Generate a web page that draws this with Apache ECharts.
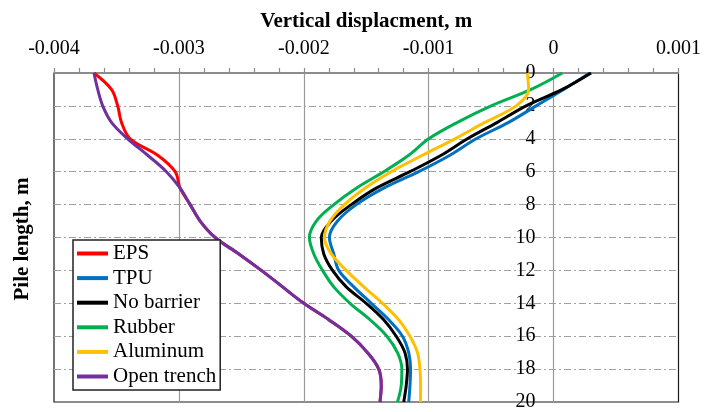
<!DOCTYPE html>
<html>
<head>
<meta charset="utf-8">
<script src="https://cdn.jsdelivr.net/npm/echarts@6/dist/echarts.min.js"></script>
<style>
  html, body { margin: 0; padding: 0; background: #fff; }
  #chart { width: 704px; height: 412px; }
</style>
</head>
<body>
<div id="chart"></div>
<script>
// Depth along the pile (m), shared by every curve
const depth = [0, 1, 2, 3, 4, 5, 6, 7, 8, 9, 10, 11, 12, 13, 14, 15, 16, 17, 18, 19, 20];

// Vertical displacement (m) at each depth
const eps        = [-0.00368, -0.00354, -0.00349, -0.00346, -0.00339, -0.00317, -0.00303, -0.00299, -0.00291, -0.00283, -0.00271, -0.00252, -0.00234, -0.00217, -0.00200, -0.00180, -0.00162, -0.00149, -0.00140, -0.00138, -0.00139];
const tpu        = [ 0.00029,  0.00008, -0.00014, -0.00036, -0.00062, -0.00083, -0.00108, -0.00136, -0.00158, -0.00173, -0.001795, -0.00176, -0.00172, -0.00160, -0.00146, -0.00132, -0.00121, -0.00116, -0.001145, -0.00115, -0.00116];
const noBarrier  = [ 0.00030,  0.00007, -0.00022, -0.00045, -0.00069, -0.00090, -0.00115, -0.00142, -0.00162, -0.00178, -0.00186, -0.00184, -0.00177, -0.00166, -0.00150, -0.00136, -0.00126, -0.00119, -0.00117, -0.00118, -0.00120];
const rubber     = [ 0.00007, -0.00018, -0.00050, -0.00077, -0.00100, -0.00116, -0.00136, -0.00158, -0.00176, -0.00190, -0.001955, -0.00192, -0.00185, -0.00176, -0.00163, -0.00147, -0.001335, -0.00125, -0.001215, -0.00122, -0.00125];
const aluminum   = [-0.00021, -0.00020, -0.00030, -0.00055, -0.00079, -0.00105, -0.00130, -0.00151, -0.001675, -0.00179, -0.001835, -0.00178, -0.00166, -0.00152, -0.00137, -0.00124, -0.00115, -0.00109, -0.00107, -0.001065, -0.001066];
const openTrench = [-0.00368, -0.00365, -0.00361, -0.00354, -0.00341, -0.00325, -0.00310, -0.00299, -0.00291, -0.00283, -0.00271, -0.00252, -0.00234, -0.00217, -0.00200, -0.00180, -0.00162, -0.00149, -0.00140, -0.00138, -0.00139];

const seriesNames  = ['EPS', 'TPU', 'No barrier', 'Rubber', 'Aluminum', 'Open trench'];
const seriesValues = [eps, tpu, noBarrier, rubber, aluminum, openTrench];
const seriesColors = ['#FF0000', '#0070C0', '#000000', '#00B050', '#FFC000', '#7030A0'];

// Axis ticks and their labels
const xTicks     = [-0.004, -0.003, -0.002, -0.001, 0, 0.001];
const xTickText  = ['-0.004', '-0.003', '-0.002', '-0.001', '0', '0.001'];
const yTicks     = [0, 2, 4, 6, 8, 10, 12, 14, 16, 18, 20];
const yTickText  = ['0', '2', '4', '6', '8', '10', '12', '14', '16', '18', '20'];

const xTitle = 'Vertical displacment, m';
const yTitle = 'Pile length, m';

const FONT = '"Liberation Serif", "Times New Roman", serif';
const GRID_LEFT = 54;

function tickLabel(ticks, texts) {
  return function (v) {
    let best = 0;
    for (let i = 1; i < ticks.length; i++) {
      if (Math.abs(ticks[i] - v) < Math.abs(ticks[best] - v)) best = i;
    }
    return texts[best];
  };
}

const chart = echarts.init(document.getElementById('chart'), null, { renderer: 'canvas' });

chart.setOption({
  animation: false,
  backgroundColor: '#ffffff',
  grid: {
    left: GRID_LEFT, right: 25, top: 73, bottom: 9,
    show: true,
    borderColor: '#1a1a1a',
    borderWidth: 1.2,
    backgroundColor: 'transparent'
  },
  xAxis: {
    type: 'value',
    position: 'top',
    min: -0.004, max: 0.001, interval: 0.001,
    name: xTitle,
    nameLocation: 'middle',
    nameGap: 41,
    nameTextStyle: { fontFamily: FONT, fontSize: 21, fontWeight: 'bold', color: '#000' },
    axisLine: { show: true, onZero: false, lineStyle: { color: '#8c8c8c', width: 1.2 } },
    axisTick: { show: true, length: 5, lineStyle: { color: '#8c8c8c', width: 1.2 } },
    minorTick: { show: true, splitNumber: 5, length: 5, lineStyle: { color: '#8c8c8c', width: 1.2 } },
    splitLine: { show: true, showMinLine: false, showMaxLine: false, lineStyle: { color: '#9a9a9a', width: 1.2 } },
    axisLabel: {
      margin: 14,
      fontFamily: FONT, fontSize: 20, color: '#000',
      formatter: tickLabel(xTicks, xTickText)
    }
  },
  yAxis: {
    type: 'value',
    position: 'left',
    inverse: true,
    min: 0, max: 20, interval: 2,
    axisLine: { show: false, onZero: false },
    axisTick: { show: false },
    splitLine: {
      show: true, showMinLine: false, showMaxLine: false,
      lineStyle: { color: '#a0a0a0', width: 1, type: [7, 3, 2, 3] }
    },
    axisLabel: {
      margin: 18,
      fontFamily: FONT, fontSize: 20, color: '#000',
      formatter: tickLabel(yTicks, yTickText)
    }
  },
  legend: {
    data: seriesNames,
    orient: 'vertical',
    left: 73, top: 240,
    icon: 'rect',
    itemWidth: 31, itemHeight: 4, itemGap: 3.6,
    padding: [3, 4, 3, 4],
    borderColor: '#222', borderWidth: 1.5,
    backgroundColor: '#ffffff',
    textStyle: { fontFamily: FONT, fontSize: 21, lineHeight: 21, color: '#000' }
  },
  graphic: [{
    type: 'text',
    x: 23, y: 239,
    rotation: Math.PI / 2,
    style: {
      text: yTitle,
      font: 'bold 21px ' + FONT,
      fill: '#000',
      align: 'center',
      verticalAlign: 'middle'
    }
  }],
  series: seriesNames.map((name, i) => ({
    name: name,
    type: 'line',
    data: seriesValues[i].map((v, k) => [v, depth[k]]),
    symbol: 'none',
    smooth: 0.35,
    color: seriesColors[i],
    lineStyle: { color: seriesColors[i], width: 3 }
  }))
});

// The depth axis crosses the displacement axis at zero: shift it there
const zeroX = chart.convertToPixel({ xAxisIndex: 0 }, 0);
chart.setOption({ yAxis: { offset: -(zeroX - GRID_LEFT) } });
</script>
</body>
</html>
